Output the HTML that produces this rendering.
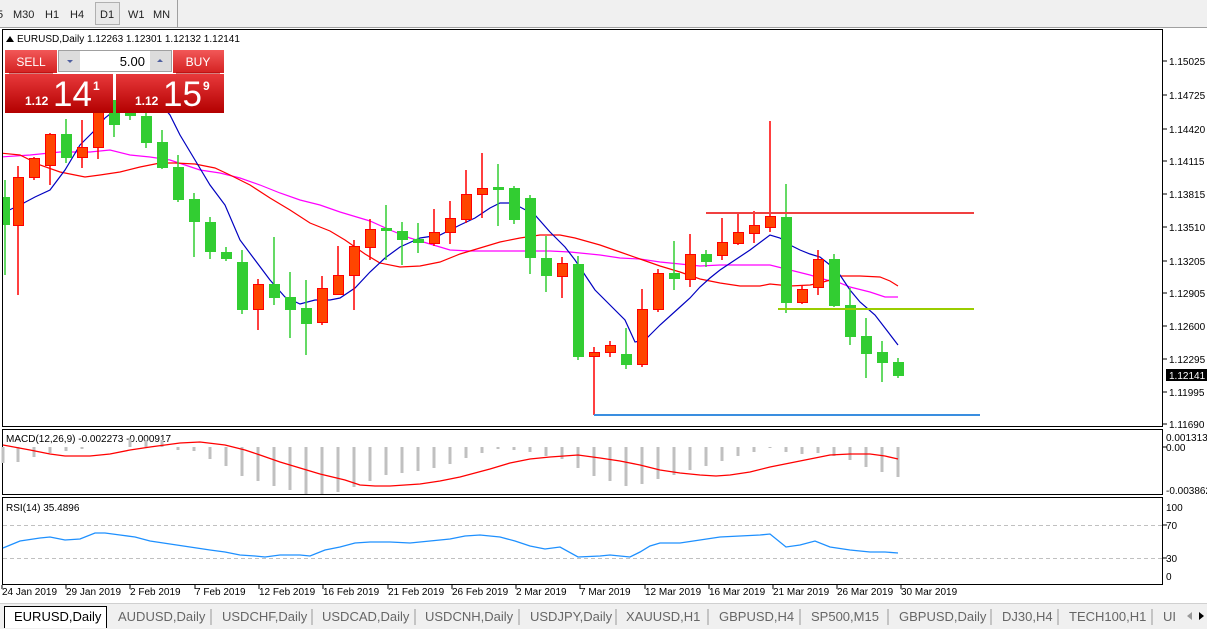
<!DOCTYPE html>
<html><head><meta charset="utf-8"><style>
html,body{margin:0;padding:0;background:#fff;width:1207px;height:629px;overflow:hidden}
svg{display:block;font-family:"Liberation Sans",Tahoma,sans-serif}
</style></head><body>
<svg width="1207" height="629" viewBox="0 0 1207 629" xmlns="http://www.w3.org/2000/svg">
<defs>
<linearGradient id="gb" x1="0" y1="0" x2="0" y2="1"><stop offset="0" stop-color="#e8393b"/><stop offset="1" stop-color="#b30000"/></linearGradient>
<linearGradient id="gs" x1="0" y1="0" x2="0" y2="1"><stop offset="0" stop-color="#f25858"/><stop offset="1" stop-color="#d42121"/></linearGradient>
<clipPath id="cm"><rect x="3" y="30" width="1159" height="396"/></clipPath>
</defs>
<!-- toolbar -->
<rect x="0" y="0" width="1207" height="28" fill="#f0f0f0"/>
<line x1="0" y1="27.5" x2="1207" y2="27.5" stroke="#a0a0a0"/>
<g font-size="11" fill="#222">
<text x="-3" y="18">5</text><text x="13" y="18">M30</text><text x="45" y="18">H1</text><text x="70" y="18">H4</text>
<rect x="95.5" y="2.5" width="24" height="22" fill="#e8e8e8" stroke="#b0b0b0"/>
<text x="100" y="18">D1</text><text x="128" y="18">W1</text><text x="153" y="18">MN</text>
</g>
<line x1="177.5" y1="0" x2="177.5" y2="27" stroke="#a0a0a0"/>
<!-- chart frames -->
<rect x="2.5" y="29.5" width="1160" height="397" fill="#fff" stroke="#000"/>
<rect x="2.5" y="429.5" width="1160" height="65" fill="#fff" stroke="#000"/>
<rect x="2.5" y="497.5" width="1160" height="87" fill="#fff" stroke="#000"/>
<g clip-path="url(#cm)">
<!-- MAs -->
<polyline fill="none" stroke="#ff00ff" stroke-width="1.2" points="0,157 30,155 60,152 90,152 110,150 130,155 150,157 170,160 185,165 200,170 220,173 240,178 260,185 280,193 300,200 320,205 340,212 350,215 370,221 390,230 410,238 430,244 450,250 470,251 500,251 530,251 550,251 570,252 600,255 620,258 640,259 660,262 680,264 700,266 720,265 750,265 770,265 790,270 810,275 830,281 840,283 850,287 870,292 885,297 898,297"/>
<polyline fill="none" stroke="#ff0000" stroke-width="1.2" points="0,153 20,155 40,165 60,172 85,177 100,175 120,172 140,167 160,163 175,163 195,164 215,168 230,175 250,185 270,198 290,210 310,223 330,231 345,240 365,254 380,263 400,267 420,266 440,262 460,254 480,248 500,242 520,238 540,235 560,235 575,238 600,245 620,252 640,259 660,266 680,272 700,279 720,283 740,286 760,286 770,284 790,286 810,285 820,283 830,280 840,276 860,276 880,277 890,281 898,286"/>
<polyline fill="none" stroke="#0000c0" stroke-width="1.2" points="5,212 20,205 35,197 50,190 65,170 80,145 95,130 105,118 115,110 130,100 145,98 160,103 170,115 180,135 195,160 210,185 225,205 240,240 255,260 270,280 285,297 300,304 315,300 330,300 340,298 355,288 370,272 385,258 400,247 420,238 440,235 460,225 475,218 490,208 500,203 510,203 520,207 535,215 550,232 565,247 575,260 585,275 595,290 610,305 625,320 635,342 645,340 660,325 680,307 690,298 700,287 710,278 720,270 735,260 750,250 770,235 780,238 790,245 800,250 810,254 820,257 830,265 840,275 850,290 860,302 875,315 885,328 898,345"/>
<!-- candles -->
<g stroke="#32cd32" fill="#32cd32" stroke-width="1.5">
<path d="M5 180V275M66 119V163M114 100V137M130 100V120M146 113V148M162 130V169M178 155V202M194 193V257M210 217V259M226 247V261M242 250V314M274 237V305M290 272V338M306 280V355M386 205V260M402 222V265M418 223V253M498 164V226M514 186V224M530 195V274M546 236V292M578 256V360M626 328V369M674 241V290M706 250V267M786 184V313M834 254V307M850 288V345M866 318V378M882 341V382M898 358V378"/>
</g>
<g fill="#32cd32">
<rect x="0" y="197" width="10" height="28"/><rect x="61" y="134" width="11" height="24"/><rect x="109" y="100" width="11" height="25"/><rect x="125" y="100" width="11" height="16"/><rect x="141" y="116" width="11" height="27"/><rect x="157" y="142" width="11" height="26"/><rect x="173" y="167" width="11" height="33"/><rect x="189" y="199" width="11" height="23"/><rect x="205" y="222" width="11" height="30"/><rect x="221" y="252" width="11" height="7"/><rect x="237" y="262" width="11" height="48"/><rect x="269" y="284" width="11" height="14"/><rect x="285" y="297" width="11" height="13"/><rect x="301" y="308" width="11" height="16"/><rect x="381" y="228" width="11" height="3"/><rect x="397" y="231" width="11" height="9"/><rect x="413" y="239" width="11" height="4"/><rect x="493" y="187" width="11" height="3"/><rect x="509" y="188" width="11" height="32"/><rect x="525" y="198" width="11" height="60"/><rect x="541" y="258" width="11" height="18"/><rect x="573" y="264" width="11" height="93"/><rect x="621" y="354" width="11" height="11"/><rect x="669" y="273" width="11" height="6"/><rect x="701" y="254" width="11" height="8"/><rect x="781" y="217" width="11" height="86"/><rect x="829" y="259" width="11" height="47"/><rect x="845" y="305" width="11" height="32"/><rect x="861" y="336" width="11" height="18"/><rect x="877" y="352" width="11" height="11"/><rect x="893" y="362" width="11" height="14"/>
</g>
<g stroke="#ff0000" stroke-width="1.5">
<path d="M18 166V295M34 157V180M50 133V185M82 120V168M98 105V159M258 279V330M322 276V325M338 246V295M354 240V310M370 219V260M434 209V246M450 201V244M466 170V223M482 153V218M562 257V298M594 347V415M610 341V357M642 289V367M658 269V312M690 234V287M722 218V260M738 212V245M754 211V243M770 121V232M802 285V304M818 250V295"/>
</g>
<g fill="#ff4500" stroke="#ff0000" stroke-width="1">
<rect x="13.5" y="177.5" width="10" height="48"/><rect x="29.5" y="158.5" width="10" height="19"/><rect x="45.5" y="134.5" width="10" height="31"/><rect x="77.5" y="147.5" width="10" height="10"/><rect x="93.5" y="105.5" width="10" height="42"/><rect x="253.5" y="284.5" width="10" height="25"/><rect x="317.5" y="288.5" width="10" height="34"/><rect x="333.5" y="275.5" width="10" height="19"/><rect x="349.5" y="246.5" width="10" height="29"/><rect x="365.5" y="229.5" width="10" height="18"/><rect x="429.5" y="232.5" width="10" height="11"/><rect x="445.5" y="218.5" width="10" height="14"/><rect x="461.5" y="194.5" width="10" height="25"/><rect x="477.5" y="188.5" width="10" height="6"/><rect x="557.5" y="263.5" width="10" height="13"/><rect x="589.5" y="352.5" width="10" height="4"/><rect x="605.5" y="345.5" width="10" height="7"/><rect x="637.5" y="309.5" width="10" height="55"/><rect x="653.5" y="273.5" width="10" height="36"/><rect x="685.5" y="254.5" width="10" height="25"/><rect x="717.5" y="242.5" width="10" height="13"/><rect x="733.5" y="232.5" width="10" height="11"/><rect x="749.5" y="225.5" width="10" height="8"/><rect x="765.5" y="216.5" width="10" height="11"/><rect x="797.5" y="289.5" width="10" height="13"/><rect x="813.5" y="259.5" width="10" height="28"/>
</g>
<!-- horizontal lines -->
<line x1="706" y1="213" x2="974" y2="213" stroke="#f04040" stroke-width="2"/>
<line x1="778" y1="309" x2="974" y2="309" stroke="#9acd00" stroke-width="2"/>
<line x1="594" y1="415" x2="980" y2="415" stroke="#3a8ee0" stroke-width="2"/>
</g>
<!-- header -->
<path d="M6 42L10 36L14 42Z" fill="#000"/>
<text x="17" y="42" font-size="10" fill="#000">EURUSD,Daily  1.12263 1.12301 1.12132 1.12141</text>
<!-- trade panel -->
<rect x="5" y="50" width="52" height="23" fill="url(#gs)"/>
<line x1="9" y1="73" x2="53" y2="73" stroke="#a00"/>
<text x="31" y="66" font-size="12" fill="#fff" text-anchor="middle">SELL</text>
<rect x="58.5" y="50.5" width="113" height="21" fill="#fff" stroke="#a0a0a0"/>
<rect x="59" y="51" width="21" height="20" fill="#dcdcdc"/>
<rect x="150" y="51" width="21" height="20" fill="#dcdcdc"/>
<path d="M67 60L73 60L70 63Z" fill="#5060a0"/><path d="M157 62L163 62L160 59Z" fill="#5060a0"/>
<text x="145" y="66" font-size="13" fill="#000" text-anchor="end">5.00</text>
<rect x="173" y="50" width="51" height="23" fill="url(#gs)"/>
<line x1="176" y1="73" x2="220" y2="73" stroke="#a00"/>
<text x="198" y="66" font-size="12" fill="#fff" text-anchor="middle">BUY</text>
<rect x="5" y="74" width="108" height="39" fill="url(#gb)"/>
<rect x="116" y="74" width="108" height="39" fill="url(#gb)"/>
<g fill="#fff">
<text x="25" y="105" font-size="12" font-weight="bold">1.12</text>
<text x="53" y="106" font-size="35">14</text>
<text x="93" y="90" font-size="12" font-weight="bold">1</text>
<text x="135" y="105" font-size="12" font-weight="bold">1.12</text>
<text x="163" y="106" font-size="35">15</text>
<text x="203" y="90" font-size="12" font-weight="bold">9</text>
</g>
<!-- price axis -->
<g stroke="#000"><path d="M1163 61h4M1163 95h4M1163 129h4M1163 161h4M1163 194h4M1163 227h4M1163 261h4M1163 293h4M1163 326h4M1163 359h4M1163 392h4M1163 424h4M1163 447h4M1163 525h4M1163 558h4"/></g>
<g font-size="10" fill="#000">
<text x="1169" y="65">1.15025</text><text x="1169" y="99">1.14725</text><text x="1169" y="133">1.14420</text><text x="1169" y="165">1.14115</text><text x="1169" y="198">1.13815</text><text x="1169" y="231">1.13510</text><text x="1169" y="265">1.13205</text><text x="1169" y="297">1.12905</text><text x="1169" y="330">1.12600</text><text x="1169" y="363">1.12295</text><text x="1169" y="396">1.11995</text><text x="1169" y="428">1.11690</text>
<text x="1166" y="441">0.001313</text><text x="1166" y="451">0.00</text><text x="1166" y="494">-0.003862</text>
<text x="1166" y="511">100</text><text x="1166" y="529">70</text><text x="1166" y="562">30</text><text x="1166" y="580">0</text>
</g>
<rect x="1166" y="369" width="41" height="12" fill="#000"/>
<text x="1169" y="379" font-size="10" fill="#fff">1.12141</text>
<!-- MACD -->
<text x="6" y="442" font-size="10" fill="#000">MACD(12,26,9) -0.002273 -0.000917</text>
<g stroke="#c0c0c0" stroke-width="3">
<path d="M3 447V463M18 447V462M34 447V457M50 447V453M66 447V451M82 447V449M130 447V439M146 447V440M162 447V440M178 447V450M194 447V451M210 447V459M226 447V466M242 447V476M258 447V481M274 447V486M290 447V490M306 447V494M322 447V494M338 447V492M354 447V487M370 447V481M386 447V475M402 447V473M418 447V471M434 447V468M450 447V464M466 447V458M482 447V453M498 447V449M514 447V450M530 447V452M546 447V456M562 447V459M578 447V468M594 447V476M610 447V481M626 447V486M642 447V484M658 447V479M674 447V475M690 447V470M706 447V466M722 447V461M738 447V456M754 447V452M770 447V448M786 447V452M802 447V454M818 447V453M834 447V456M850 447V460M866 447V467M882 447V472M898 447V477"/>
</g>
<polyline fill="none" stroke="#ff0000" stroke-width="1.3" points="3,445 30,450 50,454 65,456 90,456 110,454 130,450 150,447 180,443 200,442 225,445 245,450 260,455 280,462 300,468 320,474 345,480 360,485 375,486 390,486 420,484 440,481 460,477 490,469 510,463 530,459 550,457 578,455 600,458 620,461 640,465 660,470 680,473 700,475 716,476 730,475 750,472 770,467 790,463 810,459 830,455 850,454 870,454 885,456 898,459"/>
<!-- RSI -->
<text x="6" y="511" font-size="10" fill="#000">RSI(14) 35.4896</text>
<g stroke="#c0c0c0" stroke-dasharray="4,3"><line x1="3" y1="525.5" x2="1162" y2="525.5"/><line x1="3" y1="558.5" x2="1162" y2="558.5"/></g>
<polyline fill="none" stroke="#1e90ff" stroke-width="1.3" points="3,548 20,541 40,538 50,537 65,540 80,539 95,533 105,533 120,535 135,537 150,541 170,544 190,547 210,550 225,552 240,555 255,556 265,557 280,555 300,555 310,556 325,550 340,547 355,543 370,542 390,542 410,543 430,541 450,539 465,536 480,535 500,537 515,541 530,546 545,549 560,547 578,557 600,556 610,555 620,556 630,557 640,552 650,546 660,543 680,543 700,540 720,537 740,536 760,535 770,534 786,547 800,545 815,541 830,547 850,550 870,552 885,552 898,553"/>
<!-- date axis -->
<g stroke="#000"><path d="M2 585v4M66 585v4M130 585v4M195 585v4M259 585v4M323 585v4M388 585v4M452 585v4M516 585v4M580 585v4M645 585v4M709 585v4M773 585v4M837 585v4M901 585v4"/></g>
<g font-size="10" fill="#000">
<text x="2" y="595">24 Jan 2019</text><text x="66" y="595">29 Jan 2019</text><text x="130" y="595">2 Feb 2019</text><text x="195" y="595">7 Feb 2019</text><text x="259" y="595">12 Feb 2019</text><text x="323" y="595">16 Feb 2019</text><text x="388" y="595">21 Feb 2019</text><text x="452" y="595">26 Feb 2019</text><text x="516" y="595">2 Mar 2019</text><text x="580" y="595">7 Mar 2019</text><text x="645" y="595">12 Mar 2019</text><text x="709" y="595">16 Mar 2019</text><text x="773" y="595">21 Mar 2019</text><text x="837" y="595">26 Mar 2019</text><text x="901" y="595">30 Mar 2019</text>
</g>
<!-- tabs -->
<rect x="0" y="603" width="1207" height="26" fill="#f0f0f0"/>
<line x1="0" y1="603.5" x2="1207" y2="603.5" stroke="#d0d0d0"/>
<path d="M4.5 628V606.5H106.5V628" fill="#fff" stroke="#000"/>
<g font-size="13" fill="#666">
<text x="14" y="621" fill="#000">EURUSD,Daily</text>
<text x="118" y="621">AUDUSD,Daily</text><text x="222" y="621">USDCHF,Daily</text><text x="322" y="621">USDCAD,Daily</text><text x="425" y="621">USDCNH,Daily</text><text x="530" y="621">USDJPY,Daily</text><text x="626" y="621">XAUUSD,H1</text><text x="719" y="621">GBPUSD,H4</text><text x="811" y="621">SP500,M15</text><text x="899" y="621">GBPUSD,Daily</text><text x="1002" y="621">DJ30,H4</text><text x="1069" y="621">TECH100,H1</text><text x="1163" y="621">UI</text>
</g>
<g stroke="#999"><path d="M211 609v16M312 609v16M415 609v16M519 609v16M616 609v16M708 609v16M800 609v16M888 609v16M991 609v16M1058 609v16M1152 609v16"/></g>
<rect x="1178" y="604" width="29" height="25" fill="#f0f0f0"/>
<path d="M1192 612L1187 616L1192 620Z" fill="#999"/><path d="M1199 612L1204 616L1199 620Z" fill="#000"/>
</svg>
</body></html>
